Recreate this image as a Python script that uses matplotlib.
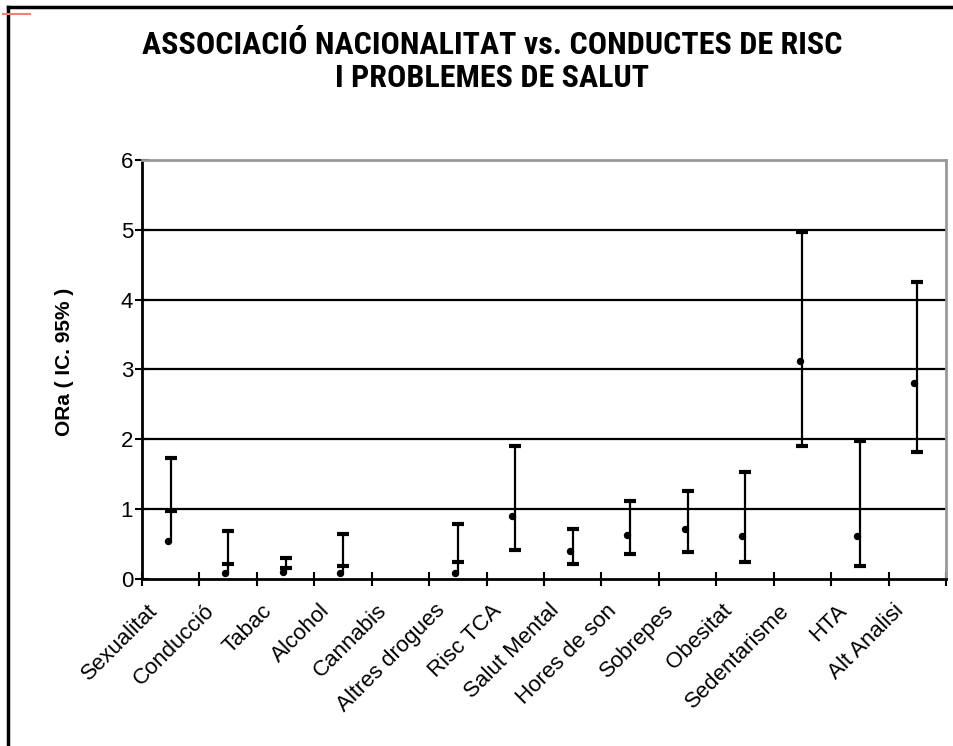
import matplotlib
matplotlib.use('Agg')
import matplotlib.pyplot as plt
import matplotlib.transforms as mtransforms
import numpy as np
from matplotlib.lines import Line2D

# categories and odds ratios with 95% CI
categories = ['Sexualitat', 'Conducció', 'Tabac', 'Alcohol', 'Cannabis',
              'Altres drogues', 'Risc TCA', 'Salut Mental', 'Hores de son',
              'Sobrepes', 'Obesitat', 'Sedentarisme', 'HTA', 'Alt Analisi']
ci_high = [1.73, 0.68, 0.30, 0.65, np.nan, 0.79, 1.91, 0.71, 1.12,
           1.26, 1.53, 4.97, 1.97, 4.25]
ci_low = [0.97, 0.21, 0.15, 0.18, np.nan, 0.24, 0.42, 0.21, 0.36,
          0.39, 0.24, 1.90, 0.18, 1.82]
ora = [0.55, 0.08, 0.10, 0.08, np.nan, 0.08, 0.90, 0.40, 0.63,
       0.72, 0.61, 3.12, 0.61, 2.80]
yticks = [0, 1, 2, 3, 4, 5, 6]

plt.rcParams['font.family'] = ['Liberation Sans', 'DejaVu Sans']

fig = plt.figure(figsize=(9.54, 7.46), dpi=100)
ax = fig.add_axes([0.1489, 0.2239, 0.8427, 0.5616])

x = np.arange(len(categories))
hi = np.array(ci_high)
lo = np.array(ci_low)
pt = np.array(ora)
bottom = np.fmin(lo, pt)

ax.vlines(x, bottom, hi, color='black', lw=1.6, zorder=3)
ax.plot(x, hi, ls='none', marker='_', ms=8, mew=3, color='black', zorder=4)
ax.plot(x, lo, ls='none', marker='_', ms=8, mew=3, color='black', zorder=4)
ax.plot(x - 0.05, pt, ls='none', marker='o', ms=4.3, color='black', zorder=5)

ax.set_xlim(-0.5, len(categories) - 0.5)
ax.set_ylim(0, 6)
ax.set_yticks(yticks)
for v in yticks[1:-1]:
    ax.axhline(v, color='black', lw=1.6, zorder=1)

# category names sit a little left of and below each slot
ax.set_xticks(x)
ax.set_xticklabels([])
ax.tick_params(axis='x', which='major', length=0)
shift = mtransforms.ScaledTranslation(-0.09, -0.21, fig.dpi_scale_trans)
for i, name in enumerate(categories):
    ax.text(i, 0, name, transform=ax.get_xaxis_transform() + shift,
            rotation=45, ha='right', va='top', fontsize=16)

ax.set_xticks(np.arange(len(categories) + 1) - 0.5, minor=True)
ax.tick_params(axis='x', which='minor', direction='inout', length=10, width=1.5)
ax.tick_params(axis='y', direction='inout', length=10, width=1.5, labelsize=16, pad=1.5)

ax.spines['left'].set_linewidth(2)
ax.spines['bottom'].set_linewidth(2)
ax.spines['top'].set_color('#999999')
ax.spines['right'].set_color('#999999')
ax.spines['top'].set_linewidth(2)
ax.spines['right'].set_linewidth(2)

ax.set_ylabel('ORa ( IC. 95% )', fontsize=15, fontweight='bold')
ax.yaxis.set_label_coords(-0.085, 0.518)

title_font = ['Roboto Condensed', 'PT Sans Narrow', 'DejaVu Sans']
fig.text(0.5157, 1 - 45 / 746, 'ASSOCIACIÓ NACIONALITAT vs. CONDUCTES DE RISC',
         ha='center', va='center', fontsize=23, fontweight='bold', family=title_font)
fig.text(0.5162, 1 - 78 / 746, 'I PROBLEMES DE SALUT',
         ha='center', va='center', fontsize=23, fontweight='bold', family=title_font)

# outer frame and the small mark in the corner
fig.add_artist(Line2D([8 / 954, 1], [1 - 7 / 746, 1 - 7 / 746], transform=fig.transFigure,
                      color='black', lw=2.5))
fig.add_artist(Line2D([8 / 954, 8 / 954], [0, 1 - 7 / 746], transform=fig.transFigure,
                      color='black', lw=2.5))
fig.add_artist(Line2D([3 / 954, 30 / 954], [1 - 14 / 746, 1 - 14 / 746], transform=fig.transFigure,
                      color='#f08070', lw=1.5))

fig.savefig('out.png', dpi=100)
